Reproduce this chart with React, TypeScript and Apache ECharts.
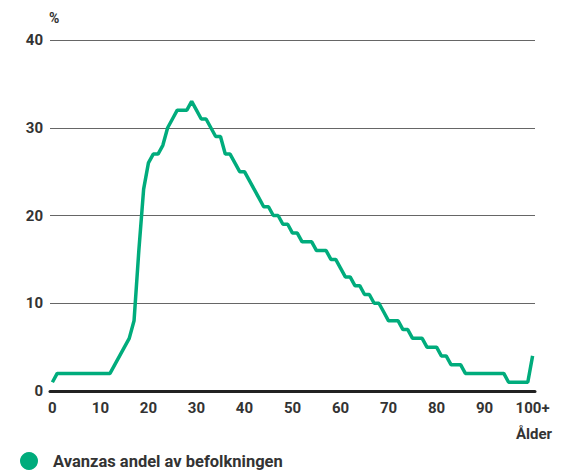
import React, { useEffect, useRef } from "react";
import * as echarts from "echarts";

const ages: string[] = Array.from({ length: 101 }, (_, i) => (i === 100 ? "100+" : String(i)));
const shareValues: number[] = [
  1, 2, 2, 2, 2, 2, 2, 2, 2, 2,
  2, 2, 2, 3, 4, 5, 6, 8, 16, 23,
  26, 27, 27, 28, 30, 31, 32, 32, 32, 33,
  32, 31, 31, 30, 29, 29, 27, 27, 26, 25,
  25, 24, 23, 22, 21, 21, 20, 20, 19, 19,
  18, 18, 17, 17, 17, 16, 16, 16, 15, 15,
  14, 13, 13, 12, 12, 11, 11, 10, 10, 9,
  8, 8, 8, 7, 7, 6, 6, 6, 5, 5,
  5, 4, 4, 3, 3, 3, 2, 2, 2, 2,
  2, 2, 2, 2, 2, 1, 1, 1, 1, 1,
  4,
];
const seriesName = "Avanzas andel av befolkningen";
const yAxisUnit = "%";
const xAxisTitle = "Ålder";

const FONT = "Roboto, 'Noto Sans', sans-serif";
const TEXT = "#333333";
const GREEN = "#00ac7c";

export default function App() {
  const ref = useRef<HTMLDivElement>(null);
  useEffect(() => {
    if (!ref.current) return;
    const chart = echarts.init(ref.current, null, { renderer: "svg" });
    chart.setOption({
      animation: false,
      grid: { left: 50, right: 26, top: 40, bottom: 80 },
      legend: {
        left: 20,
        top: 452,
        padding: 0,
        icon: "circle",
        itemWidth: 18,
        itemHeight: 18,
        data: [seriesName],
        textStyle: {
          fontFamily: FONT,
          fontWeight: "bold",
          fontSize: 16.5,
          color: TEXT,
          padding: [0, 0, 0, 10],
        },
      },
      xAxis: {
        type: "category",
        data: ages,
        boundaryGap: true,
        axisLine: { show: true, lineStyle: { color: "#222", width: 3 } },
        axisTick: { show: false },
        axisLabel: {
          interval: 9,
          color: TEXT,
          fontFamily: FONT,
          fontWeight: "bold",
          fontSize: 15,
          margin: 9,
        },
        splitLine: { show: false },
      },
      yAxis: {
        type: "value",
        min: 0,
        max: 40,
        interval: 10,
        axisLine: { show: false },
        axisTick: { show: false },
        axisLabel: {
          color: TEXT,
          fontFamily: FONT,
          fontWeight: "bold",
          fontSize: 15,
          margin: 7,
        },
        splitLine: { lineStyle: { color: "#666", width: 1 } },
      },
      graphic: [
        {
          type: "text",
          left: 49,
          top: 11,
          style: { text: yAxisUnit, fill: TEXT, font: `bold 14px ${FONT}` },
        },
        {
          type: "text",
          left: 516,
          top: 426,
          style: { text: xAxisTitle, fill: TEXT, font: `bold 15px ${FONT}` },
        },
      ],
      series: [
        {
          name: seriesName,
          type: "line",
          data: shareValues,
          showSymbol: false,
          symbol: "circle",
          lineStyle: { color: GREEN, width: 3.5 },
          itemStyle: { color: GREEN },
        },
      ],
    });
    return () => chart.dispose();
  }, []);
  return <div ref={ref} style={{ width: 561, height: 471, position: "absolute", left: 0, top: 0 }} />;
}
